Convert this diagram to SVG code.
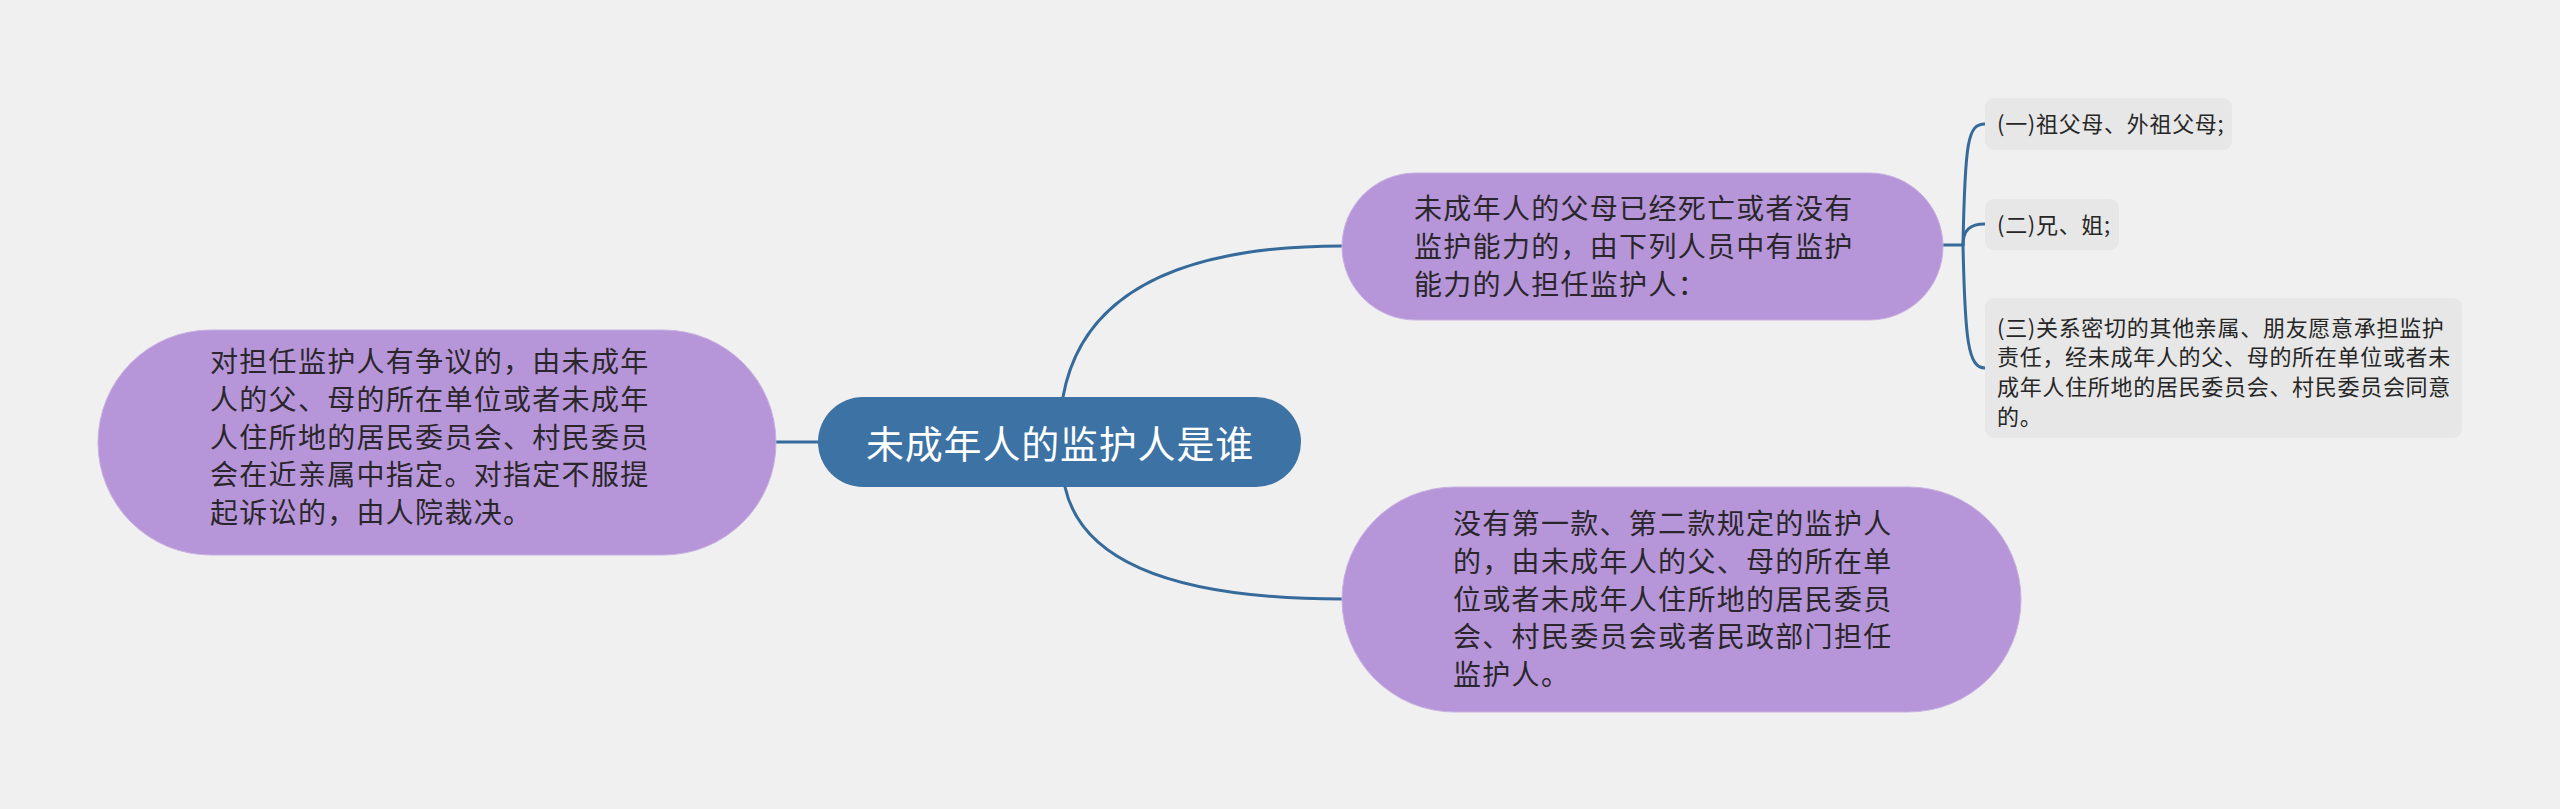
<svg xmlns="http://www.w3.org/2000/svg" width="2560" height="809" viewBox="0 0 2560 809">
<style>
.bg{fill:#f0f0f0}
.conn{fill:none;stroke:#356a9a;stroke-width:3;stroke-linecap:round}
.root{fill:#3d72a4}
.sub{fill:#b696d8;stroke:#c8b0e2;stroke-width:1}
.leaf{fill:#e7e7e7}
.t{font-family:"Noto Sans CJK SC","Noto Sans",sans-serif}
.rt{font-size:38px;fill:#ffffff;letter-spacing:0.8px}
.st{font-size:28px;fill:#2a262c;letter-spacing:1.3px}
.lt{font-size:22px;fill:#262626;letter-spacing:0.7px}
</style>
<rect class="bg" x="0" y="0" width="2560" height="809"/>
<g id="connectors">
<path class="conn" d="M776,442 H818"/>
<path class="conn" d="M1063,397 Q1090,246 1342,246"/>
<path class="conn" d="M1065,487 Q1090,599 1342,599"/>
<path class="conn" d="M1943,245 H1963"/>
<path class="conn" d="M1963,245 C1965,140 1968,124 1985,124"/>
<path class="conn" d="M1963,245 C1963,230 1970,224 1985,224"/>
<path class="conn" d="M1963,245 C1965,340 1968,368 1985,368"/>
</g>
<g id="root">
<rect class="root" x="818" y="397" width="483" height="90" rx="45"/>
<text class="t rt" x="1060" y="458" text-anchor="middle">未成年人的监护人是谁</text>
</g>
<g id="node-left">
<rect class="sub" x="98" y="330" width="678" height="225" rx="112.5"/>
<text class="t st">
<tspan x="210" y="372">对担任监护人有争议的，由未成年</tspan>
<tspan x="210" y="409.8">人的父、母的所在单位或者未成年</tspan>
<tspan x="210" y="447.6">人住所地的居民委员会、村民委员</tspan>
<tspan x="210" y="485.4">会在近亲属中指定。对指定不服提</tspan>
<tspan x="210" y="523.2">起诉讼的，由人院裁决。</tspan>
</text>
</g>
<g id="node-top-right">
<rect class="sub" x="1342" y="173" width="601" height="147" rx="73.5"/>
<text class="t st">
<tspan x="1414" y="219">未成年人的父母已经死亡或者没有</tspan>
<tspan x="1414" y="256.8">监护能力的，由下列人员中有监护</tspan>
<tspan x="1414" y="294.6">能力的人担任监护人：</tspan>
</text>
</g>
<g id="node-bottom-right">
<rect class="sub" x="1342" y="487" width="679" height="225" rx="112.5"/>
<text class="t st">
<tspan x="1453" y="534">没有第一款、第二款规定的监护人</tspan>
<tspan x="1453" y="571.8">的，由未成年人的父、母的所在单</tspan>
<tspan x="1453" y="609.6">位或者未成年人住所地的居民委员</tspan>
<tspan x="1453" y="647.4">会、村民委员会或者民政部门担任</tspan>
<tspan x="1453" y="685.2">监护人。</tspan>
</text>
</g>
<g id="leaf-1">
<rect class="leaf" x="1985" y="98" width="247" height="52" rx="9"/>
<text class="t lt" x="1997" y="132">(一)祖父母、外祖父母;</text>
</g>
<g id="leaf-2">
<rect class="leaf" x="1985" y="199" width="134" height="51" rx="9"/>
<text class="t lt" x="1997" y="232.5">(二)兄、姐;</text>
</g>
<g id="leaf-3">
<rect class="leaf" x="1985" y="298" width="477" height="140" rx="9"/>
<text class="t lt">
<tspan x="1997" y="335.5">(三)关系密切的其他亲属、朋友愿意承担监护</tspan>
<tspan x="1997" y="365.2">责任，经未成年人的父、母的所在单位或者未</tspan>
<tspan x="1997" y="394.9">成年人住所地的居民委员会、村民委员会同意</tspan>
<tspan x="1997" y="424.6">的。</tspan>
</text>
</g>
</svg>
